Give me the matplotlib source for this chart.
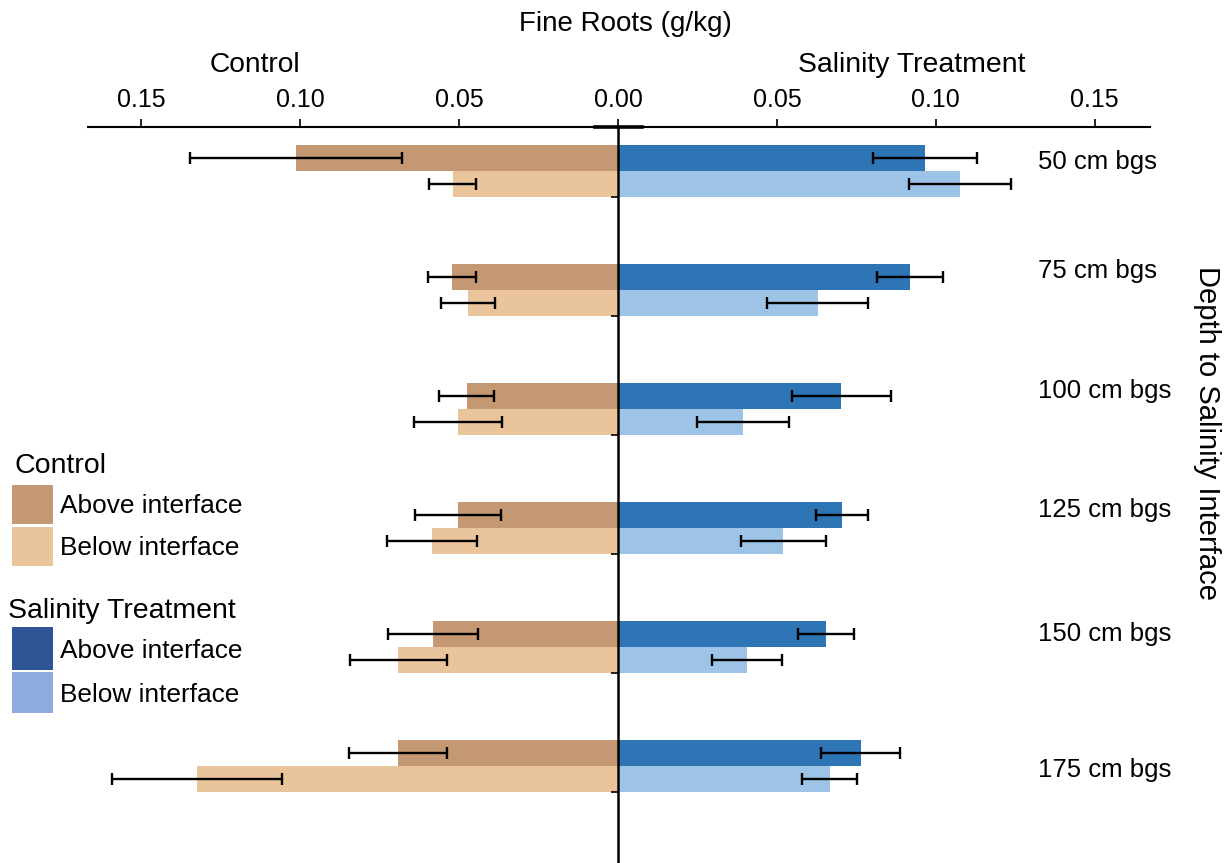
import numpy as np
import matplotlib.pyplot as plt
from matplotlib.patches import Rectangle

plt.rcParams['font.family'] = ['Liberation Sans', 'DejaVu Sans']

# fine root mass (g/kg), one value per depth to the salinity interface
depths = ['50 cm bgs', '75 cm bgs', '100 cm bgs', '125 cm bgs', '150 cm bgs', '175 cm bgs']
ctrl_above = [0.1013, 0.0523, 0.0476, 0.0503, 0.0583, 0.0693]
ctrl_above_err = [0.0333, 0.0075, 0.0087, 0.0136, 0.0141, 0.0154]
ctrl_below = [0.0520, 0.0472, 0.0503, 0.0586, 0.0692, 0.1325]
ctrl_below_err = [0.0074, 0.0086, 0.0138, 0.0141, 0.0153, 0.0267]
salt_above = [0.0966, 0.0919, 0.0703, 0.0706, 0.0655, 0.0764]
salt_above_err = [0.0163, 0.0103, 0.0155, 0.0082, 0.0089, 0.0124]
salt_below = [0.1076, 0.0629, 0.0393, 0.0520, 0.0406, 0.0666]
salt_below_err = [0.0161, 0.0159, 0.0145, 0.0133, 0.0110, 0.0086]
xticks = [-0.15, -0.10, -0.05, 0.0, 0.05, 0.10, 0.15]

# colours
c_ctrl_hi, c_ctrl_lo = '#C49872', '#EAC49A'
c_salt_hi, c_salt_lo = '#2E75B6', '#9DC3E6'
leg_salt_hi, leg_salt_lo = '#2F5597', '#8FAADC'

W, H = 1231, 863
fig = plt.figure(figsize=(W / 100, H / 100), dpi=100)
ax = fig.add_axes([88 / W, 0, (1150 - 88) / W, (H - 127) / H])

def ftext(x, y, s, **kw):
    # place text by pixel position (from top-left)
    fig.text(x / W, 1 - y / H, s, **kw)

ypos = np.arange(len(depths))
bh = 0.222

ax.barh(ypos - bh / 2, -np.array(ctrl_above), height=bh, color=c_ctrl_hi, lw=0)
ax.barh(ypos + bh / 2, -np.array(ctrl_below), height=bh, color=c_ctrl_lo, lw=0)
ax.barh(ypos - bh / 2, salt_above, height=bh, color=c_salt_hi, lw=0)
ax.barh(ypos + bh / 2, salt_below, height=bh, color=c_salt_lo, lw=0)

ebkw = dict(fmt='none', ecolor='black', elinewidth=1.7, capsize=4, capthick=1.7, zorder=4)
ax.errorbar(-np.array(ctrl_above), ypos - bh / 2, xerr=ctrl_above_err, **ebkw)
ax.errorbar(-np.array(ctrl_below), ypos + bh / 2, xerr=ctrl_below_err, **ebkw)
ax.errorbar(salt_above, ypos - bh / 2, xerr=salt_above_err, **ebkw)
ax.errorbar(salt_below, ypos + bh / 2, xerr=salt_below_err, **ebkw)

ax.set_xlim(-0.1668, 0.1674)
ax.set_ylim(5.815, -0.37)

# top axis with absolute values on both sides
ax.xaxis.tick_top()
ax.set_xticks(xticks)
ax.set_xticklabels(['%.2f' % abs(t) for t in xticks], fontsize=18)
ax.tick_params(axis='x', direction='out', length=6, width=1.2, pad=5)

for s in ['right', 'bottom']:
    ax.spines[s].set_visible(False)
ax.spines['top'].set_linewidth(1.5)
ax.spines['left'].set_position(('data', 0))
ax.spines['left'].set_linewidth(1.8)
ax.set_yticks(ypos + bh)
ax.set_yticklabels([])
ax.tick_params(axis='y', direction='out', length=5, width=1.2)
ax.plot([-0.0072, 0.0076], [-0.37, -0.37], color='black', lw=2.6, clip_on=False, zorder=5)

# depth labels on the right
depth_label_dy = [-0.02, -0.10, -0.09, -0.09, -0.05, 0.09]
for i, (lab, dy) in enumerate(zip(depths, depth_label_dy)):
    ax.text(0.1322, i + dy, lab, fontsize=18.5, ha='left', va='baseline')

ftext(625, 31, 'Fine Roots (g/kg)', fontsize=20, ha='center', va='baseline')
ftext(255, 72, 'Control', fontsize=20.3, ha='center', va='baseline')
ftext(912, 72, 'Salinity Treatment', fontsize=20.4, ha='center', va='baseline')
ftext(1207, 433, 'Depth to Salinity Interface', fontsize=21, rotation=-90,
      ha='center', va='center')

# legend drawn by hand on the left
ftext(14, 473, 'Control', fontsize=20.5, va='baseline')
ftext(8, 618, 'Salinity Treatment', fontsize=20.5, va='baseline')
legend_rows = [
    (485, 524, c_ctrl_hi, 'Above interface', 513),
    (527, 566, c_ctrl_lo, 'Below interface', 555),
    (627, 670, leg_salt_hi, 'Above interface', 658),
    (672, 713, leg_salt_lo, 'Below interface', 702),
]
for y0, y1, col, lab, base in legend_rows:
    fig.patches.append(Rectangle((12 / W, 1 - y1 / H), 41 / W, (y1 - y0) / H,
                                 transform=fig.transFigure, color=col, lw=0))
    ftext(60, base, lab, fontsize=18.9, va='baseline')

fig.savefig('out.png', dpi=100)
